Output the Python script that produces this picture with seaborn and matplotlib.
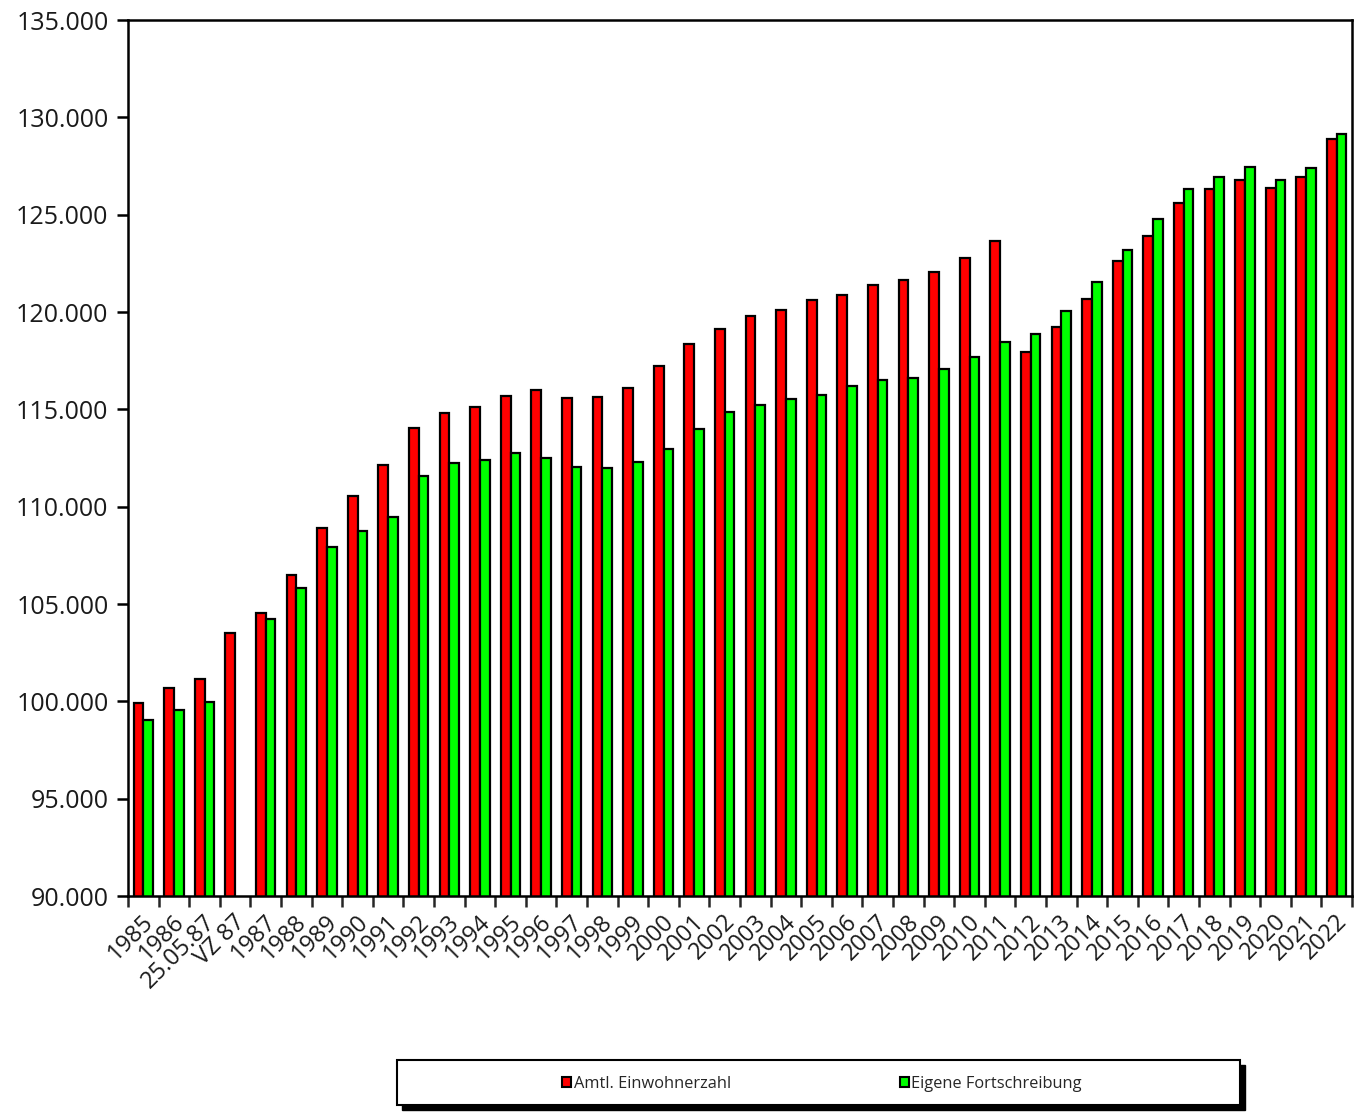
import pandas as pd
import numpy as np
import matplotlib
matplotlib.use("Agg")
import matplotlib.pyplot as plt
import matplotlib.transforms as mtransforms
from matplotlib.patches import Rectangle
from matplotlib.ticker import FuncFormatter
import seaborn as sns

# Data
categories = ["1985", "1986", "25.05.87", "VZ 87"] + [str(y) for y in range(1987, 2023)]
amtlich = [99900, 100700, 101130, 103500,
           104540, 106490, 108900, 110550, 112140, 114040, 114810, 115100,
           115680, 115990, 115600, 115650, 116080, 117230, 118340, 119140,
           119770, 120100, 120600, 120860, 121370, 121620, 122070, 122770,
           123640, 117960, 119210, 120690, 122600, 123920, 125600, 126300,
           126770, 126370, 126910, 128900]
eigene = [99040, 99550, 99960, np.nan,
          104230, 105820, 107930, 108750, 109470, 111580, 112240, 112400,
          112770, 112480, 112050, 112000, 112280, 112960, 114000, 114860,
          115200, 115530, 115730, 116180, 116490, 116620, 117050, 117700,
          118480, 118870, 120030, 121520, 123160, 124780, 126330, 126930,
          127460, 126790, 127400, 129130]
series = ["Amtl. Einwohnerzahl", "Eigene Fortschreibung"]
colors = ["#ff0000", "#00ff00"]

df = pd.DataFrame({
    "Kategorie": categories * 2,
    "Wert": amtlich + eigene,
    "Reihe": [series[0]] * len(categories) + [series[1]] * len(categories),
})

sns.set_style("white")
plt.rcParams["font.family"] = ["Open Sans", "DejaVu Sans"]

fig = plt.figure(figsize=(13.58, 11.12), dpi=100)
ax = fig.add_axes([128 / 1358, 1 - 896 / 1112, (1352 - 128) / 1358, (896 - 20) / 1112])

sns.barplot(data=df, x="Kategorie", y="Wert", hue="Reihe", order=categories,
            palette=colors, saturation=1, edgecolor="black", linewidth=1.6,
            width=0.64, ax=ax, legend=False)

ax.set_ylim(90000, 135000)
ax.set_xlim(-0.5, len(categories) - 0.5)
ax.set_yticks(range(90000, 135001, 5000))
ax.yaxis.set_major_formatter(FuncFormatter(lambda v, p: f"{int(v):,}".replace(",", ".")))
ax.tick_params(axis="y", direction="out", length=8, width=1.8, labelsize=18, pad=6,
               left=True, colors="black", labelcolor="#1a1a1a")

ax.set_xticks(range(len(categories)))
ax.set_xticklabels(categories, rotation=45, ha="right", va="center",
                   rotation_mode="anchor", fontsize=17, color="#1a1a1a")
ax.tick_params(axis="x", which="major", length=0, pad=16)
shift = mtransforms.ScaledTranslation(7 / 100, 0, fig.dpi_scale_trans)
for lbl in ax.get_xticklabels():
    lbl.set_transform(lbl.get_transform() + shift)
ax.set_xticks(np.arange(-0.5, len(categories)), minor=True)
ax.tick_params(axis="x", which="minor", direction="out", length=8, width=1.8,
               bottom=True)

ax.set_xlabel("")
ax.set_ylabel("")
for s in ax.spines.values():
    s.set_visible(True)
    s.set_color("black")
    s.set_linewidth(1.8)

# legend box with shadow
x0, y0, w, h = 397 / 1358, 1 - 1105 / 1112, (1240 - 397) / 1358, (1105 - 1060) / 1112
fig.patches.append(Rectangle((x0 + 5 / 1358, y0 - 5 / 1112), w, h, transform=fig.transFigure,
                             facecolor="black", edgecolor="black", zorder=1))
fig.patches.append(Rectangle((x0, y0), w, h, transform=fig.transFigure,
                             facecolor="white", edgecolor="black", linewidth=1.5, zorder=2))

handles = [Rectangle((0, 0), 1, 1, facecolor=c, edgecolor="black", linewidth=1.5)
           for c in colors]
fig.legend(handles, series, loc="center", bbox_to_anchor=(822 / 1358, 1 - 1084 / 1112),
           ncol=2, frameon=False, fontsize=11.8, handlelength=0.55, handleheight=0.55,
           handletextpad=0.15, columnspacing=10.3)

fig.savefig("out.png", dpi=100)
